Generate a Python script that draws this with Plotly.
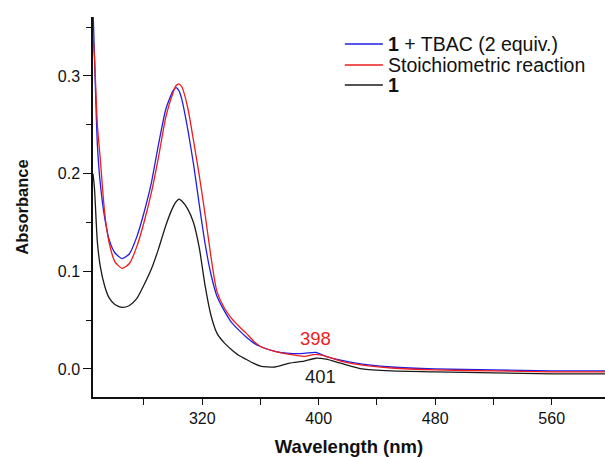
import plotly.graph_objects as go

# ---- data ----
wavelength = [245, 246, 248, 250, 253, 256, 260, 265, 270, 275, 280, 285, 290, 295,
              300, 302, 304, 306, 310, 314, 318, 322, 326, 330, 335, 340, 345, 350,
              355, 360, 370, 380, 390, 398, 405, 415, 430, 450, 480, 520, 560, 597]

abs_tbac = [0.370, 0.320, 0.230, 0.190, 0.155, 0.133, 0.119, 0.113, 0.118, 0.135,
            0.160, 0.190, 0.230, 0.266, 0.285, 0.288, 0.285, 0.276, 0.246, 0.210,
            0.168, 0.128, 0.097, 0.075, 0.060, 0.048, 0.040, 0.033, 0.027, 0.023,
            0.018, 0.016, 0.016, 0.017, 0.013, 0.009, 0.005, 0.002, 0.000, -0.001,
            -0.002, -0.002]

abs_stoich = [0.340, 0.320, 0.250, 0.215, 0.160, 0.130, 0.110, 0.103, 0.108, 0.125,
              0.150, 0.180, 0.217, 0.258, 0.283, 0.290, 0.292, 0.289, 0.268, 0.234,
              0.198, 0.158, 0.115, 0.080, 0.063, 0.052, 0.044, 0.037, 0.029, 0.023,
              0.018, 0.015, 0.013, 0.015, 0.013, 0.008, 0.004, 0.001, -0.001, -0.002,
              -0.003, -0.003]

abs_1 = [0.200, 0.185, 0.130, 0.105, 0.085, 0.073, 0.066, 0.063, 0.065, 0.072,
         0.086, 0.102, 0.123, 0.147, 0.166, 0.171, 0.174, 0.172, 0.164, 0.150,
         0.124, 0.085, 0.055, 0.037, 0.027, 0.020, 0.014, 0.010, 0.006, 0.003,
         0.002, 0.006, 0.008, 0.011, 0.010, 0.006, 0.000, -0.002, -0.003, -0.004,
         -0.005, -0.005]

series_names = ["<b>1</b> + TBAC (2 equiv.)", "Stoichiometric reaction", "<b>1</b>"]
series_colors = ["#1f1fe6", "#ee1c1c", "#1a1a1a"]
peak_labels = [("398", 398, 0.0317, "#ee1c1c"), ("401", 401, -0.0072, "#1a1a1a")]

x_range = [245.0, 596.6]
y_range = [-0.0287, 0.3604]

FONT = "Liberation Sans, Arial, sans-serif"

fig = go.Figure()
for vals, name, col in [(abs_1, series_names[2], series_colors[2]),
                        (abs_tbac, series_names[0], series_colors[0]),
                        (abs_stoich, series_names[1], series_colors[1])]:
    fig.add_trace(go.Scatter(x=wavelength, y=vals, mode="lines", name=name,
                             line=dict(color=col, width=1.3, shape="spline", smoothing=0.6),
                             showlegend=False))

# legend drawn manually (tight row spacing as in the reference)
L, W = 93.3, 511.7
T, H = 17.0, 380.0
def px(xp):
    return (xp - L) / W
def py(yp):
    return (T + H - yp) / H

rows_y = [44, 65, 85]
for name, col, ry in zip(series_names, series_colors, rows_y):
    fig.add_shape(type="line", xref="paper", yref="paper",
                  x0=px(345), x1=px(383), y0=py(ry), y1=py(ry),
                  line=dict(color=col, width=1.3))
    fig.add_annotation(xref="paper", yref="paper", x=px(386), y=py(ry),
                       xanchor="left", yanchor="middle", text=name, showarrow=False,
                       font=dict(family=FONT, size=19.5, color="#111111"))

for txt, xv, yv, col in peak_labels:
    fig.add_annotation(x=xv, y=yv, text=txt, showarrow=False,
                       xanchor="center", yanchor="middle",
                       font=dict(family=FONT, size=18.5, color=col))

fig.update_layout(
    width=605, height=457,
    margin=dict(l=93, r=0, t=17, b=60),
    paper_bgcolor="white", plot_bgcolor="white",
    font=dict(family=FONT, size=16, color="#111111"),
    showlegend=False,
)
fig.update_xaxes(range=x_range, showgrid=False, zeroline=False,
                 showline=True, linecolor="#111111", linewidth=1.5,
                 ticks="outside", ticklen=6, tickwidth=1.2, tickcolor="#111111",
                 tick0=320, dtick=80,
                 minor=dict(tick0=280, dtick=80, ticks="outside", ticklen=6,
                            tickwidth=1.2, tickcolor="#111111"),
                 tickfont=dict(size=16),
                 title=dict(text="<b>Wavelength (nm)</b>", font=dict(size=18.5), standoff=16))
fig.update_yaxes(range=y_range, showgrid=False, zeroline=False,
                 showline=True, linecolor="#111111", linewidth=1.5,
                 ticks="outside", ticklen=8, tickwidth=1.2, tickcolor="#111111",
                 tick0=0, dtick=0.1, tickformat=".1f",
                 minor=dict(dtick=0.05, ticks="outside", ticklen=5,
                            tickwidth=1.2, tickcolor="#111111"),
                 tickfont=dict(size=16),
                 title=dict(text="<b>Absorbance</b>", font=dict(size=16.5), standoff=25))

fig.write_html("out.html")
